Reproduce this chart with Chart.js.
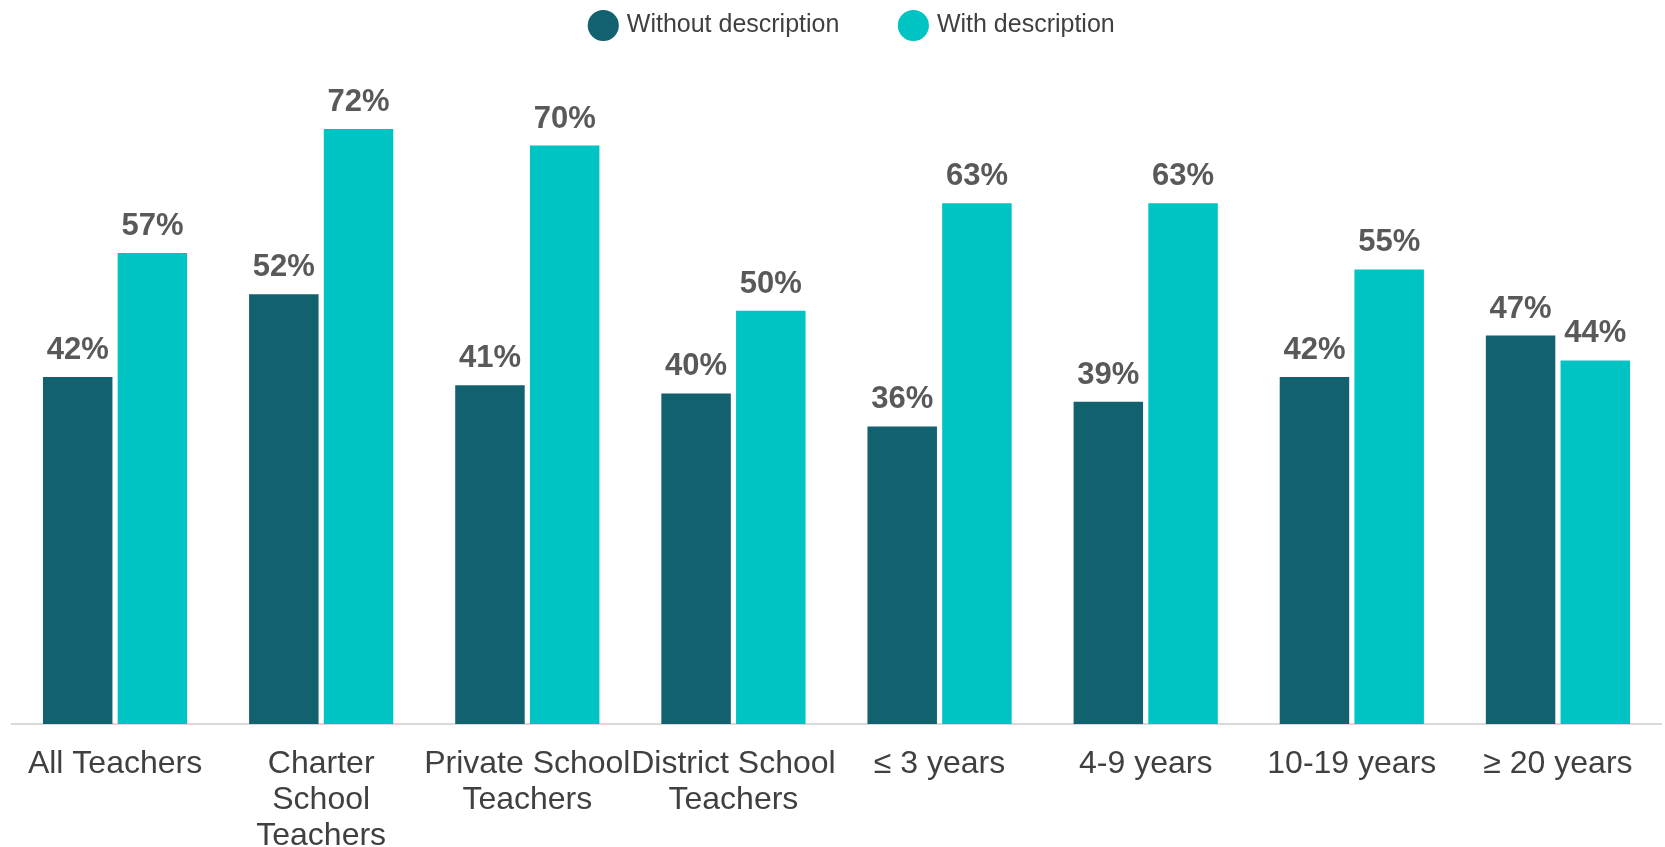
<!DOCTYPE html>
<html>
<head>
<meta charset="utf-8">
<script src="https://cdn.jsdelivr.net/npm/chart.js@4"></script>
<style>
  html, body { margin: 0; padding: 0; background: #fff; }
  #wrap { width: 1665px; height: 847px; }
</style>
</head>
<body>
<div id="wrap"><canvas id="barChart"></canvas></div>
<script>
const categories = [
    'All Teachers',
    ['Charter', 'School', 'Teachers'],
    ['Private School', 'Teachers'],
    ['District School', 'Teachers'],
    '≤ 3 years',
    '4-9 years',
    '10-19 years',
    '≥ 20 years'
];
const seriesNames = ['Without description', 'With description'];
const withoutDescription = [42, 52, 41, 40, 36, 39, 42, 47];
const withDescription = [57, 72, 70, 50, 63, 63, 55, 44];

// value labels above each bar
const barLabels = {
    id: 'barLabels',
    afterDatasetsDraw(chart) {
        let ctx = chart.ctx;
        ctx.save();
        ctx.font = 'bold 31px "Liberation Sans", Arial, sans-serif';
        ctx.fillStyle = '#595959';
        ctx.textAlign = 'center';
        ctx.textBaseline = 'alphabetic';
        chart.data.datasets.forEach(function(ds, i) {
            chart.getDatasetMeta(i).data.forEach(function(bar, j) {
                ctx.fillText(ds.data[j] + '%', bar.x, bar.y - 18);
            });
        });
        ctx.restore();
    }
};

// nudge the legend a little to the right, as in the original
const legendShift = {
    id: 'legendShift',
    afterLayout(chart) {
        chart.legend.left += 17;
        chart.legend.right += 17;
    }
};

let ctx = document.getElementById('barChart').getContext('2d');

new Chart(ctx, {
    type: 'bar',
    data: {
        labels: categories,
        datasets: [{
            label: seriesNames[0],
            data: withoutDescription,
            backgroundColor: '#12616F',
            borderColor: '#12616F'
        }, {
            label: seriesNames[1],
            data: withDescription,
            backgroundColor: '#00C3C4',
            borderColor: '#00C3C4'
        }]
    },
    plugins: [barLabels, legendShift],
    options: {
        responsive: true,
        maintainAspectRatio: false,
        animation: false,
        datasets: {bar: {categoryPercentage: 0.725, barPercentage: 0.93}},
        layout: {padding: {left: 12, right: 4, top: -50, bottom: -29}},
        plugins: {
            tooltip: {enabled: false},
            legend: {
                display: true,
                position: 'top',
                labels: {
                    usePointStyle: true,
                    pointStyle: 'circle',
                    boxWidth: 22,
                    boxHeight: 22,
                    padding: 63,
                    color: '#404040',
                    font: {family: '"Liberation Sans", Arial, sans-serif', size: 25}
                }
            }
        },
        scales: {
            x: {
                grid: {display: false, drawTicks: false},
                border: {display: true, color: '#D9D9D9', width: 2},
                ticks: {
                    autoSkip: false,
                    maxRotation: 0,
                    padding: 22,
                    color: '#404040',
                    font: {family: '"Liberation Sans", Arial, sans-serif', size: 32, lineHeight: 1.125}
                }
            },
            y: {
                display: false,
                min: 0,
                max: 81.8
            }
        }
    }
});
</script>
</body>
</html>
